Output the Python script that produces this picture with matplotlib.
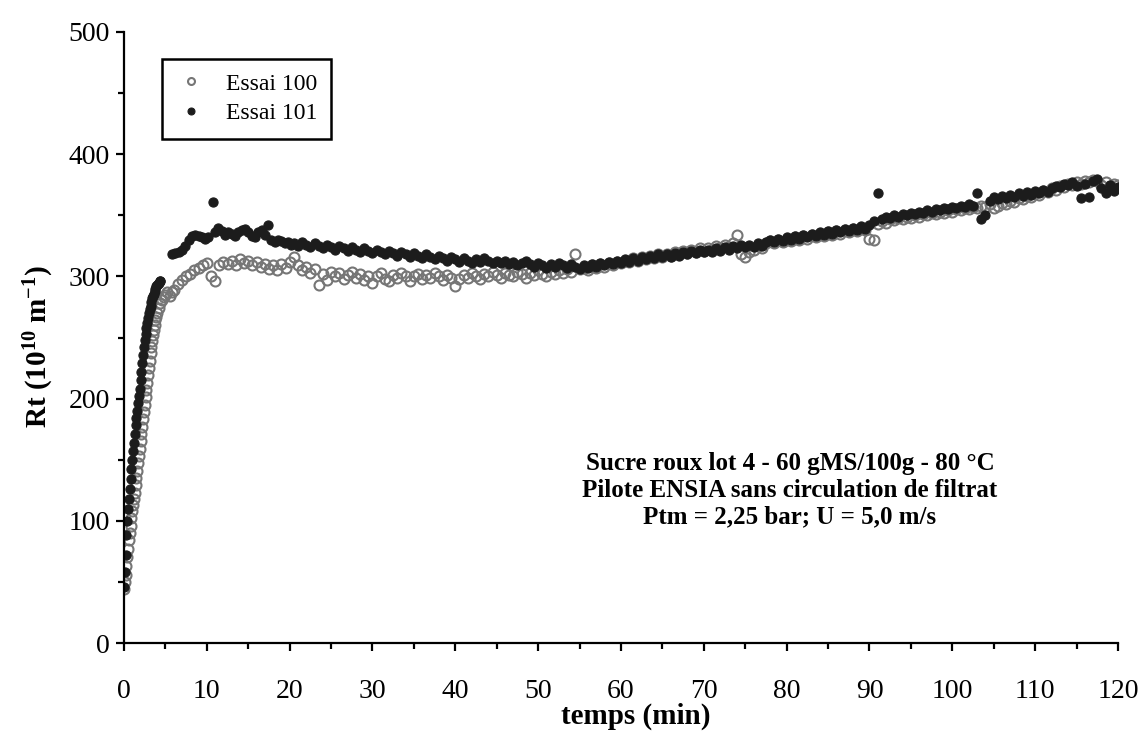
import matplotlib
matplotlib.use("Agg")
import matplotlib.pyplot as plt
from matplotlib.ticker import MultipleLocator

plt.rcParams["font.family"] = ["Liberation Serif", "DejaVu Serif"]
plt.rcParams["mathtext.fontset"] = "custom"
plt.rcParams["mathtext.rm"] = "Liberation Serif:bold"
plt.rcParams["mathtext.default"] = "rm"

# Essai 101 (points pleins)
t101 = [0.0, 0.1, 0.2, 0.3, 0.4, 0.5, 0.6, 0.7, 0.8, 0.9,
        1.0, 1.1, 1.2, 1.3, 1.4, 1.5, 1.6, 1.7, 1.8, 1.9,
        2.0, 2.1, 2.2, 2.3, 2.4, 2.5, 2.6, 2.7, 2.8, 2.9,
        3.0, 3.1, 3.2, 3.3, 3.4, 3.5, 3.6, 3.7, 3.8, 3.9,
        4.0, 4.1, 4.2, 4.3, 4.4,
        5.8, 6.2, 6.6, 7.0, 7.4, 7.8, 8.2, 8.6, 9.0, 9.4,
        9.8, 10.2, 10.7, 11.0, 11.4, 11.8, 12.2, 12.6, 13.0, 13.4,
        13.8, 14.2, 14.6, 15.0, 15.4, 15.8, 16.2, 16.6, 17.0, 17.4,
        17.8, 18.2, 18.6, 19.0, 19.4, 19.8, 20.2,
        20.5, 21.0, 21.5, 22.0, 22.5, 23.0, 23.5, 24.0, 24.5, 25.0,
        25.5, 26.0, 26.5, 27.0, 27.5, 28.0, 28.5, 29.0, 29.5, 30.0,
        30.5, 31.0, 31.5, 32.0, 32.5, 33.0, 33.5, 34.0, 34.5, 35.0,
        35.5, 36.0, 36.5, 37.0, 37.5, 38.0, 38.5, 39.0, 39.5, 40.0,
        40.5, 41.0, 41.5, 42.0, 42.5, 43.0, 43.5, 44.0, 44.5, 45.0,
        45.5, 46.0, 46.5, 47.0, 47.5, 48.0, 48.5, 49.0, 49.5, 50.0,
        50.5, 51.0, 51.5, 52.0, 52.5, 53.0, 53.5, 54.0, 54.5, 55.0,
        55.5, 56.0, 56.5, 57.0, 57.5, 58.0, 58.5, 59.0, 59.5, 60.0,
        60.5, 61.0, 61.5, 62.0, 62.5, 63.0, 63.5, 64.0, 64.5, 65.0,
        65.5, 66.0, 66.5, 67.0, 67.5, 68.0, 68.5, 69.0, 69.5, 70.0,
        70.5, 71.0, 71.5, 72.0, 72.5, 73.0, 73.5, 74.0, 74.5, 75.0,
        75.5, 76.0, 76.5, 77.0, 77.5, 78.0, 78.5, 79.0, 79.5, 80.0,
        80.5, 81.0, 81.5, 82.0, 82.5, 83.0, 83.5, 84.0, 84.5, 85.0,
        85.5, 86.0, 86.5, 87.0, 87.5, 88.0, 88.5, 89.0, 89.5, 90.0,
        90.5, 91.0, 91.5, 92.0, 92.5, 93.0, 93.5, 94.0, 94.5, 95.0,
        95.5, 96.0, 96.5, 97.0, 97.5, 98.0, 98.5, 99.0, 99.5, 100.0,
        100.5, 101.0, 101.5, 102.0, 102.5, 103.0, 103.5, 104.0, 104.5, 105.0,
        105.5, 106.0, 106.5, 107.0, 107.5, 108.0, 108.5, 109.0, 109.5, 110.0,
        110.5, 111.0, 111.5, 112.0, 112.5, 113.0, 113.5, 114.0, 114.5, 115.0,
        115.5, 116.0, 116.5, 117.0, 117.5, 118.0, 118.5, 119.0, 119.5, 120.0]
rt101 = [46, 58, 72, 88, 100, 110, 118, 126, 134, 142,
         150, 157, 164, 171, 178, 184, 190, 196, 202, 208,
         215, 222, 229, 236, 242, 248, 253, 258, 262, 266,
         270, 273, 276, 279, 282, 284, 286, 288, 290, 292,
         293, 294, 295, 296, 296,
         318, 319, 320, 322, 325, 330, 333, 334, 333, 332,
         331, 332, 361, 336, 340, 337, 334, 336, 335, 333,
         336, 338, 339, 336, 333, 332, 336, 338, 334, 342,
         330, 328, 330, 329, 327, 328, 326,
         327, 325, 328, 326, 324, 327, 325, 323, 326, 324,
         322, 325, 323, 321, 324, 322, 320, 323, 321, 319,
         322, 320, 318, 321, 319, 317, 320, 318, 316, 319,
         317, 315, 318, 316, 314, 317, 315, 313, 316, 314,
         312, 315, 313, 311, 314, 312, 315, 313, 311, 313,
         311, 313, 310, 312, 309, 311, 313, 310, 308, 311,
         309, 307, 310, 308, 311, 309, 307, 310, 308, 306,
         309, 307, 310, 308, 311, 309, 312, 310, 313, 311,
         314, 312, 315, 313, 316, 314, 317, 315, 318, 316,
         318, 316, 319, 317, 320, 318, 321, 319, 322, 320,
         322, 320, 323, 321, 324, 322, 325, 323, 326, 324,
         326, 324, 327, 325, 328, 330, 328, 331, 329, 332,
         330, 333, 331, 334, 332, 335, 333, 336, 334, 337,
         335, 338, 336, 339, 337, 340, 338, 341, 339, 342,
         345, 368, 347, 349, 348, 350, 349, 351, 350, 352,
         351, 353, 352, 354, 353, 355, 354, 356, 355, 357,
         356, 358, 357, 359, 358, 368, 347, 350, 362, 365,
         363, 366, 364, 367, 365, 368, 366, 369, 367, 370,
         368, 371, 369, 372, 374, 373, 376, 375, 377, 374,
         364, 376, 365, 378, 380, 372, 368, 375, 370, 373]

# Essai 100 (cercles ouverts)
t100 = [0.0, 0.1, 0.2, 0.3, 0.4, 0.5, 0.6, 0.7, 0.8, 0.9,
        1.0, 1.1, 1.2, 1.3, 1.4, 1.5, 1.6, 1.7, 1.8, 1.9,
        2.0, 2.1, 2.2, 2.3, 2.4, 2.5, 2.6, 2.7, 2.8, 2.9,
        3.0, 3.1, 3.2, 3.3, 3.4, 3.5, 3.6, 3.7, 3.8, 3.9,
        4.0, 4.2, 4.4, 4.6, 4.8, 5.0, 5.2, 5.5, 5.8,
        6.0, 6.5, 7.0, 7.5, 8.0, 8.5, 9.0, 9.5, 10.0, 10.5,
        11.0, 11.5, 12.0, 12.5, 13.0, 13.5, 14.0, 14.5, 15.0, 15.5,
        16.0, 16.5, 17.0, 17.5, 18.0, 18.5, 19.0, 19.5, 20.0,
        20.5, 21.0, 21.5, 22.0, 22.5, 23.0, 23.5, 24.0, 24.5, 25.0,
        25.5, 26.0, 26.5, 27.0, 27.5, 28.0, 28.5, 29.0, 29.5, 30.0,
        30.5, 31.0, 31.5, 32.0, 32.5, 33.0, 33.5, 34.0, 34.5, 35.0,
        35.5, 36.0, 36.5, 37.0, 37.5, 38.0, 38.5, 39.0, 39.5, 40.0,
        40.5, 41.0, 41.5, 42.0, 42.5, 43.0, 43.5, 44.0, 44.5, 45.0,
        45.5, 46.0, 46.5, 47.0, 47.5, 48.0, 48.5, 49.0, 49.5, 50.0,
        50.5, 51.0, 51.5, 52.0, 52.5, 53.0, 53.5, 54.0, 54.5, 55.0,
        55.5, 56.0, 56.5, 57.0, 57.5, 58.0, 58.5, 59.0, 59.5, 60.0,
        60.5, 61.0, 61.5, 62.0, 62.5, 63.0, 63.5, 64.0, 64.5, 65.0,
        65.5, 66.0, 66.5, 67.0, 67.5, 68.0, 68.5, 69.0, 69.5, 70.0,
        70.5, 71.0, 71.5, 72.0, 72.5, 73.0, 73.5, 74.0, 74.5, 75.0,
        75.5, 76.0, 76.5, 77.0, 77.5, 78.0, 78.5, 79.0, 79.5, 80.0,
        80.5, 81.0, 81.5, 82.0, 82.5, 83.0, 83.5, 84.0, 84.5, 85.0,
        85.5, 86.0, 86.5, 87.0, 87.5, 88.0, 88.5, 89.0, 89.5, 90.0,
        90.5, 91.0, 91.5, 92.0, 92.5, 93.0, 93.5, 94.0, 94.5, 95.0,
        95.5, 96.0, 96.5, 97.0, 97.5, 98.0, 98.5, 99.0, 99.5, 100.0,
        100.5, 101.0, 101.5, 102.0, 102.5, 103.0, 103.5, 104.0, 104.5, 105.0,
        105.5, 106.0, 106.5, 107.0, 107.5, 108.0, 108.5, 109.0, 109.5, 110.0,
        110.5, 111.0, 111.5, 112.0, 112.5, 113.0, 113.5, 114.0, 114.5, 115.0,
        115.5, 116.0, 116.5, 117.0, 117.5, 118.0, 118.5, 119.0, 119.5, 120.0]
rt100 = [44, 50, 56, 63, 70, 77, 84, 90, 96, 102,
         108, 113, 118, 123, 129, 135, 141, 147, 153, 159,
         165, 171, 177, 183, 189, 195, 201, 207, 213, 219,
         225, 231, 237, 242, 247, 252, 256, 260, 264, 267,
         270, 274, 278, 281, 283, 285, 287, 284, 287,
         289, 294, 297, 300, 302, 305, 307, 309, 311, 300,
         296, 309, 312, 310, 313, 309, 314, 311, 313, 309,
         312, 308, 310, 306, 309, 305, 310, 307, 312,
         316, 309, 305, 308, 303, 306, 293, 302, 297, 304,
         300, 303, 298, 301, 304, 299, 302, 297, 300, 295,
         300, 303, 298, 296, 301, 299, 303, 300, 296, 300,
         302, 298, 301, 299, 303, 300, 297, 301, 299, 292,
         298, 301, 299, 303, 300, 298, 302, 300, 304, 301,
         299, 303, 301, 300, 304, 302, 299, 303, 301, 305,
         302, 300, 304, 302, 305, 303, 306, 304, 318, 306,
         307, 305, 309, 307, 310, 308, 311, 309, 312, 311,
         313, 312, 315, 313, 316, 314, 317, 315, 318, 316,
         318, 317, 320, 318, 321, 319, 322, 320, 323, 321,
         323, 322, 325, 323, 326, 324, 327, 334, 318, 316,
         320, 322, 325, 323, 327, 329, 327, 330, 328, 331,
         329, 332, 330, 333, 331, 334, 332, 335, 333, 336,
         334, 337, 335, 338, 336, 339, 337, 340, 338, 331,
         330, 343, 345, 344, 347, 346, 348, 347, 349, 348,
         350, 349, 351, 350, 352, 351, 353, 352, 354, 353,
         355, 354, 356, 355, 357, 356, 358, 357, 359, 356,
         358, 360, 359, 362, 361, 364, 363, 366, 365, 368,
         367, 370, 369, 372, 371, 374, 373, 376, 375, 377,
         376, 378, 377, 379, 378, 375, 377, 374, 376, 375]

x_ticks = [0, 10, 20, 30, 40, 50, 60, 70, 80, 90, 100, 110, 120]
y_ticks = [0, 100, 200, 300, 400, 500]
note = ["Sucre roux lot 4 - 60 gMS/100g - 80 °C",
        "Pilote ENSIA sans circulation de filtrat",
        "Ptm = 2,25 bar; U = 5,0 m/s"]

fig = plt.figure(figsize=(11.45, 7.39), dpi=100)
ax = fig.add_axes([0.1083, 0.1299, 0.8681, 0.8268])

ax.plot(t100, rt100, "o", ms=7.2, mfc="none", mec="#767676", mew=1.5,
        label="Essai 100")
ax.plot(t101, rt101, "o", ms=6.6, mfc="#1c1c1c", mec="#1c1c1c", mew=0.8,
        label="Essai 101")

ax.set_xlim(0, 120)
ax.set_ylim(0, 500)
ax.set_xticks(x_ticks)
ax.set_yticks(y_ticks)
ax.xaxis.set_minor_locator(MultipleLocator(5))
ax.yaxis.set_minor_locator(MultipleLocator(50))
for s in ["top", "right"]:
    ax.spines[s].set_visible(False)
for s in ["left", "bottom"]:
    ax.spines[s].set_linewidth(1.6)
ax.tick_params(which="major", direction="out", length=6, width=1.6,
               labelsize=20, pad=4)
ax.tick_params(which="minor", direction="out", length=4, width=1.6)
ax.tick_params(axis="x", which="major", pad=20)

ax.set_xlabel("temps (min)", fontsize=21, fontweight="bold")
ax.xaxis.set_label_coords(0.515, -0.098)
ax.set_ylabel(r"Rt (10$^{10}$ m$^{-1}$)", fontsize=21, fontweight="bold")
ax.yaxis.set_label_coords(-0.068, 0.485)

ax.text(80.4, 125, "\n".join(note), ha="center", va="center", fontsize=18,
        fontweight="bold", linespacing=1.22)

leg = ax.legend(loc="upper left", bbox_to_anchor=(0.038, 0.956),
                borderaxespad=0, fontsize=17, fancybox=False,
                edgecolor="black", framealpha=1, handletextpad=0.8,
                borderpad=0.6, labelspacing=0.35, handlelength=1.3)
leg.get_frame().set_linewidth(1.8)
for h in leg.legend_handles:
    h.set_markersize(5)

fig.savefig("out.png", dpi=100)
